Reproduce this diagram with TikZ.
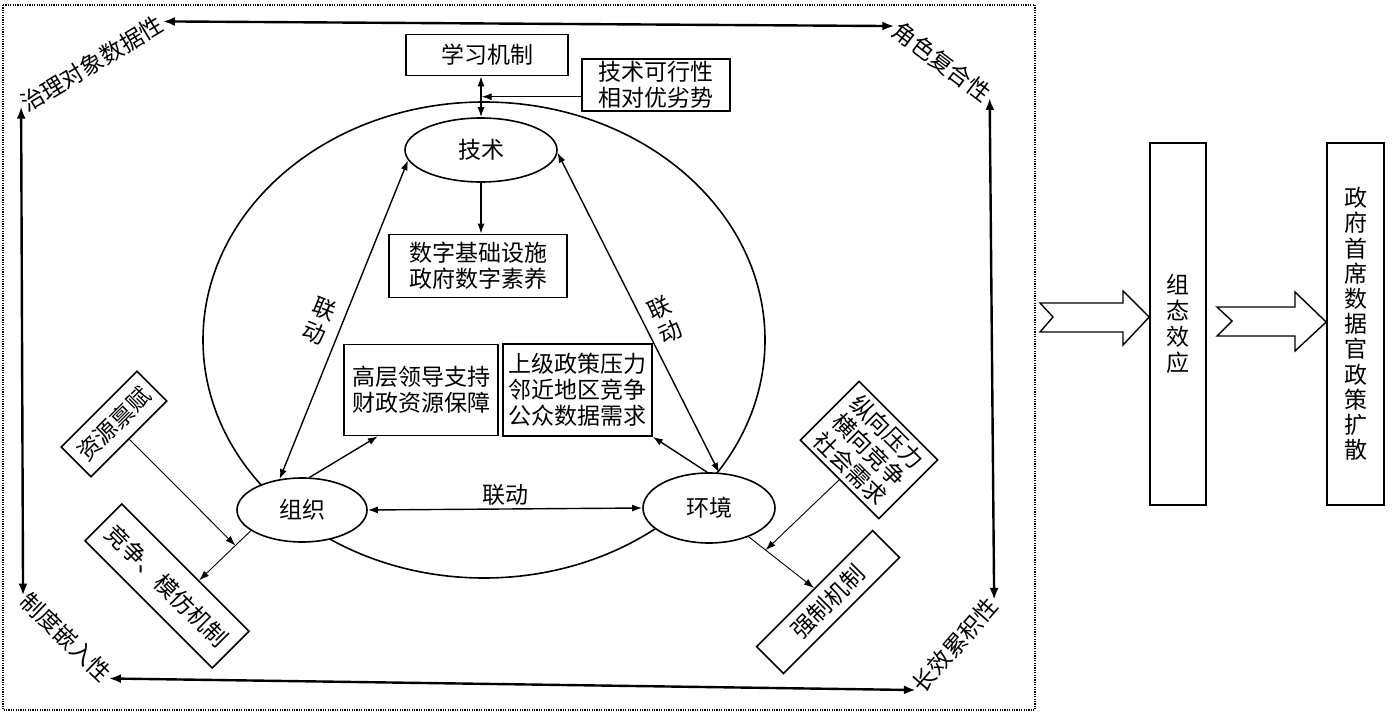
\documentclass[tikz,border=0pt]{standalone}
\usepackage{fontspec}
\newfontfamily\cjk{Noto Sans CJK SC}
\usetikzlibrary{shapes.geometric,arrows.meta,calc}
\begin{document}
\begin{tikzpicture}[x=1pt,y=-1pt,
  every node/.style={font=\cjk\fontsize{23}{26}\selectfont, inner sep=0pt},
  box/.style={draw, line width=1.6pt, fill=white, align=center},
  oval/.style={draw, ellipse, line width=1.6pt, fill=white},
  lab/.style={inner sep=2pt, align=center},
  arr/.style={line width=1.4pt, -{Latex[length=10pt,width=7pt]}},
  darr/.style={line width=1.4pt, {Latex[length=10pt,width=7pt]}-{Latex[length=10pt,width=7pt]}},
  tarr/.style={line width=0.9pt, -{Latex[length=10pt,width=7pt]}},
  barr/.style={line width=2.4pt, {Latex[length=12pt,width=9pt]}-{Latex[length=12pt,width=9pt]}},
  bigarrow/.style={draw, line width=1.4pt, fill=white, line join=miter}
]
\useasboundingbox (0,0) rectangle (1395,714);
\draw[line width=1.2pt, dash pattern=on 1.2pt off 1.2pt] (3,5) rectangle (1035,710);

% big ellipse
\draw[line width=1.6pt] (484,340) ellipse [x radius=281, y radius=238];

% nodes
\node[box, minimum width=162pt, minimum height=41pt] (xx) at (487,55) {学习机制};
\node[box, minimum width=148pt, minimum height=52pt] (jk) at (656,85) {技术可行性\\相对优劣势};
\node[oval, minimum width=152pt, minimum height=64pt] (js) at (481,150) {技术};
\node[box, minimum width=178pt, minimum height=63pt] (sz) at (478,266) {数字基础设施\\政府数字素养};
\node[box, minimum width=154pt, minimum height=91pt] (gc) at (421,390) {高层领导支持\\财政资源保障};
\node[box, minimum width=149pt, minimum height=92pt] (sj) at (577.5,390) {上级政策压力\\邻近地区竞争\\公众数据需求};
\node[oval, minimum width=130pt, minimum height=64pt] (zz) at (302,510) {组织};
\node[oval, minimum width=132pt, minimum height=70pt] (hj) at (709,508) {环境};

\node[box, rotate=45, minimum width=107pt, minimum height=42pt] (zy) at (114,424) {资源禀赋};
\node[box, rotate=-45, minimum width=180pt, minimum height=52pt] (jz) at (167,586) {竞争、模仿机制};
\node[box, rotate=-45, minimum width=111pt, minimum height=83pt] (zx) at (869,450) {纵向压力\\横向竞争\\社会需求};
\node[box, rotate=45, minimum width=164pt, minimum height=38pt] (qz) at (828,602) {强制机制};

% corner labels
\node[lab, rotate=31] (zl) at (92,64) {治理对象数据性};
\node[lab, rotate=-37] (jf) at (942,62) {角色复合性};
\node[lab, rotate=49] (cx) at (955,645) {长效累积性};
\node[lab, rotate=-44] (zd) at (66,637) {制度嵌入性};

% link labels
\node[lab, rotate=-22] (ld1) at (319,321) {联\\动};
\node[lab, rotate=25] (ld2) at (665,320) {联\\动};
\node[lab] (ld3) at (505,495) {联动};

% right side
\node[box, minimum width=56pt, minimum height=362pt] (zt) at (1178,324) {组\\态\\效\\应};
\node[box, minimum width=57pt, minimum height=362pt, font=\cjk\fontsize{23}{25.2}\selectfont] (zf) at (1355.5,324) {政\\府\\首\\席\\数\\据\\官\\政\\策\\扩\\散};

% connectors
\draw[darr] (js.north |- xx.south) -- (js.north);
\coordinate (vm) at ($(js.north |- xx.south)!0.5!(js.north)$);
\draw[arr, line width=1pt, shorten >=0.7pt] (jk.west |- vm) -- (vm);
\draw[arr] (js.south) -- (js.south |- sz.north);
\draw[darr] (zz.126) -- (js.188);
\draw[darr] (hj.74) -- (js.358);
\draw[darr] (zz.east) -- (hj.west);
\draw[arr] (zz.77) -- (gc.227);
\draw[arr] (hj.93) -- (sj.south east);
\draw[tarr] (zz.202) -- (jz.55);
\draw[tarr] (hj.324) -- (qz.north);
\draw[tarr] (zy.south) -- ($(zz.202)!0.3!(jz.55)$);
\draw[tarr] (zx.south) -- ($(hj.324)!0.26!(qz.north)$);

% corner arrows
\draw[barr] (zl.east) -- (jf.west);
\draw[barr] (jf.east) -- (cx.east);
\draw[barr] (cx.west) -- (zd.east);
\draw[barr] (zd.west) -- (zl.west);

% big chevron arrows
\draw[bigarrow] (1040,303) -- (1123,303) -- (1123,291) -- (zt.west |- 0,317) -- (1123,345) -- (1123,332) -- (1040,332) -- (1053,317) -- cycle;
\draw[bigarrow] (1217,307) -- (1295,307) -- (1295,292) -- (zf.west |- 0,322) -- (1295,351) -- (1295,336) -- (1217,336) -- (1232,321) -- cycle;
\end{tikzpicture}
\end{document}
